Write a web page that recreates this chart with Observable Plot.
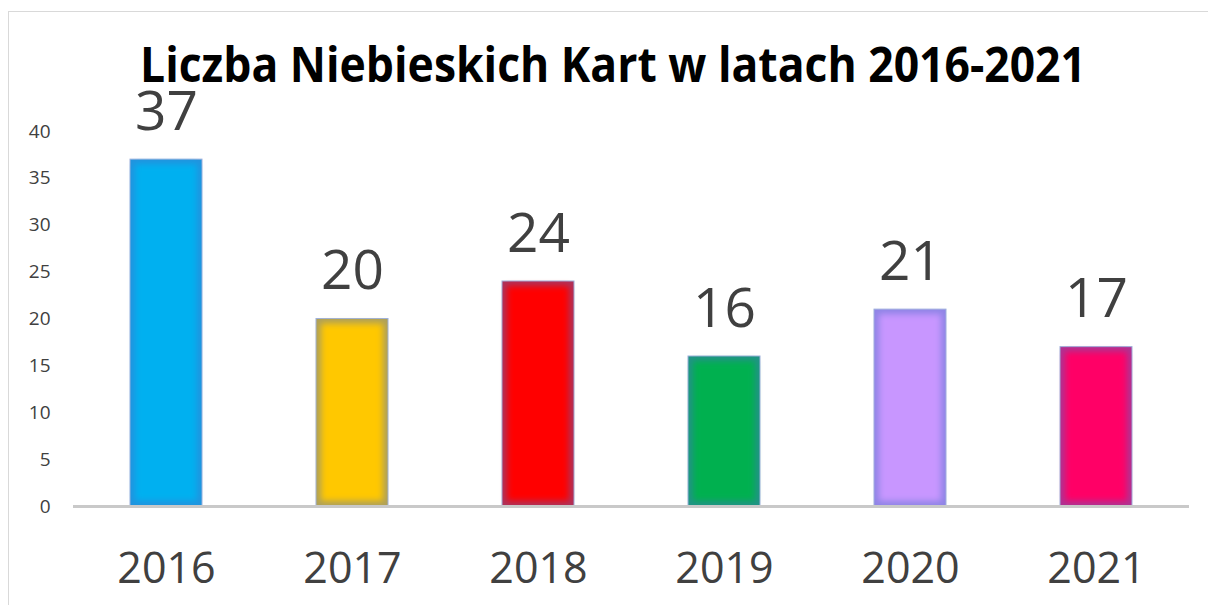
<!DOCTYPE html>
<html><head><meta charset="utf-8">
<script src="https://cdn.jsdelivr.net/npm/d3@7"></script>
<script src="https://cdn.jsdelivr.net/npm/@observablehq/plot@0.6"></script>
<style>
html,body{margin:0;padding:0;background:#fff;width:1208px;height:605px;overflow:hidden;}
#wrap{position:relative;width:1208px;height:605px;}
#frame{position:absolute;left:8px;top:11px;width:1220px;height:620px;border:1px solid #d9d9d9;box-sizing:border-box;}
#chart{position:absolute;left:0;top:0;}
#title{position:absolute;left:0;top:0;overflow:visible;}
</style></head><body>
<div id="wrap">
  <div id="frame"></div>
  <div id="chart"></div>
  <svg id="title" width="1208" height="100"><text x="140" y="82" textLength="946" lengthAdjust="spacingAndGlyphs" font-family="Open Sans" font-weight="bold" font-size="49" fill="#000">Liczba Niebieskich Kart w latach 2016-2021</text></svg>
</div>
<script>
const years = ["2016","2017","2018","2019","2020","2021"];
const counts = [37,20,24,16,21,17];
const barColors = ["#00B0F0","#FFC800","#FF0000","#00B050","#C896FF","#FF0066"];
const yTicks = [0,5,10,15,20,25,30,35,40];

const data = years.map((year,i)=>({year, count: counts[i], color: barColors[i], edge: d3.interpolateRgb(barColors[i], "#4a6fc7")(0.45)}));

const chart = Plot.plot({
  width:1208, height:605,
  marginLeft:73, marginRight:19, marginTop:131, marginBottom:99,
  x:{domain:years, paddingInner:0.613, paddingOuter:0.3065, label:null},
  y:{domain:[0,40], label:null},
  style:{fontFamily:"Open Sans", background:"transparent"},
  marks:[
    Plot.axisY({ticks:yTicks, tickSize:0, tickPadding:23, fontSize:19, fill:"#404040", label:null}),
    Plot.axisX({tickSize:0, tickPadding:46, fontSize:43, fill:"#404040", label:null}),
    Plot.barY(data,{x:"year", y:"count", fill:"edge", stroke:"#9db0dc", strokeWidth:1}),
    Plot.barY(data,{x:"year", y:"count", fill:"color", inset:5}),
    Plot.ruleY([0],{stroke:"#c9c9c9", strokeWidth:3}),
    Plot.text(data,{x:"year", y:"count", text:d=>String(d.count), lineAnchor:"bottom", dy:-30, fontSize:55, fill:"#404040"})
  ]
});
document.getElementById("chart").appendChild(chart);

const svg = d3.select(chart);
const defs = svg.insert("defs",":first-child");
defs.append("filter").attr("id","soft").attr("x","-20%").attr("y","-20%").attr("width","140%").attr("height","140%")
  .append("feGaussianBlur").attr("stdDeviation",3);
const barGroups = svg.selectAll('g[aria-label="bar"]').nodes();
if (barGroups[1]) d3.select(barGroups[1]).attr("filter","url(#soft)");
</script>
</body></html>
